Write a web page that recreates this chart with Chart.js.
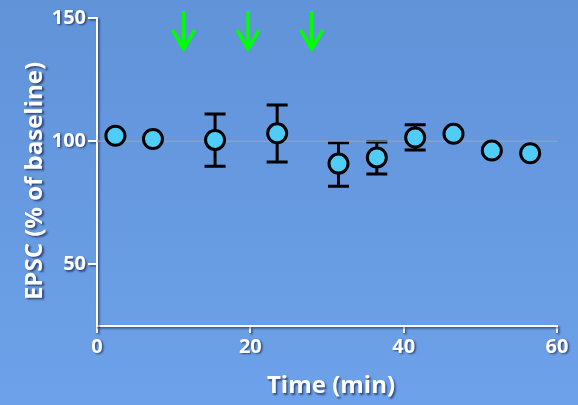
<!DOCTYPE html>
<html>
<head>
<meta charset="utf-8">
<script src="https://cdn.jsdelivr.net/npm/chart.js@4/dist/chart.umd.min.js"></script>
<style>
  html, body { margin: 0; padding: 0; background: #6699dd; }
  #wrap { width: 578px; height: 405px; }
</style>
</head>
<body>
<div id="wrap"><canvas id="canvas-1"></canvas></div>
<script>
// data
var times = [2.4, 7.3, 15.4, 23.5, 31.5, 36.5, 41.5, 46.5, 51.5, 56.5];
var epsc = [102.2, 100.9, 100.5, 103.2, 90.9, 93.4, 101.5, 103, 96.2, 95.1];
var errHigh = [null, null, 111, 114.7, 99.4, 99.7, 106.7, null, null, null];
var errLow = [null, null, 89.8, 91.6, 81.7, 86.7, 96.4, null, null, null];
var arrowTimes = [11.3, 19.7, 28];
var baseline = [100, 100];
var baselineTimes = [0, 60];
var xTicks = [0, 20, 40, 60];
var yTicks = [50, 100, 150];
var xTitle = 'Time (min)';
var yTitle = 'EPSC (% of baseline)';

var fontFamily = '"Open Sans", Lato, sans-serif';

var pointsData = times.map(function (t, i) {
  return { x: t, y: epsc[i] };
});
var baselineData = baselineTimes.map(function (t, i) {
  return { x: t, y: baseline[i] };
});

var look = {
  id: 'look',
  beforeDraw: function (chart) {
    var ctx = chart.ctx;
    var g = ctx.createLinearGradient(0, 0, 0, chart.height);
    g.addColorStop(0, '#6093d8');
    g.addColorStop(1, '#6da1e9');
    ctx.save();
    ctx.fillStyle = g;
    ctx.fillRect(0, 0, chart.width, chart.height);
    ctx.restore();
    // shadow for axes and text
    ctx.save();
    ctx.shadowColor = 'rgba(0, 0, 40, 0.55)';
    ctx.shadowOffsetX = 1.5;
    ctx.shadowOffsetY = 1.5;
    ctx.shadowBlur = 2;
    // axis titles
    ctx.fillStyle = '#fff';
    ctx.font = 'bold 24px ' + fontFamily;
    ctx.textAlign = 'center';
    ctx.textBaseline = 'alphabetic';
    ctx.fillText(xTitle, 331, 393);
    ctx.save();
    ctx.translate(42, 181);
    ctx.rotate(-Math.PI / 2);
    ctx.fillText(yTitle, 0, 0);
    ctx.restore();
  },
  beforeDatasetsDraw: function (chart) {
    var ctx = chart.ctx;
    ctx.restore();
    // error bars
    var x = chart.scales.x, y = chart.scales.y;
    ctx.save();
    ctx.strokeStyle = '#000';
    ctx.lineWidth = 3;
    for (var i = 0; i < times.length; i++) {
      if (errHigh[i] == null) continue;
      var px = x.getPixelForValue(times[i]);
      var top = y.getPixelForValue(errHigh[i]);
      var bot = y.getPixelForValue(errLow[i]);
      ctx.beginPath();
      ctx.moveTo(px, top); ctx.lineTo(px, bot);
      ctx.moveTo(px - 10.5, top); ctx.lineTo(px + 10.5, top);
      ctx.moveTo(px - 10.5, bot); ctx.lineTo(px + 10.5, bot);
      ctx.stroke();
    }
    ctx.restore();
  },
  afterDraw: function (chart) {
    var ctx = chart.ctx;
    var x = chart.scales.x;
    var top = chart.chartArea.top;
    ctx.save();
    ctx.strokeStyle = '#00ff00';
    ctx.lineWidth = 3.5;
    arrowTimes.forEach(function (t) {
      var px = x.getPixelForValue(t);
      ctx.beginPath();
      ctx.moveTo(px, top - 7);
      ctx.lineTo(px, top + 30);
      ctx.moveTo(px - 11, top + 12);
      ctx.lineTo(px, top + 31);
      ctx.lineTo(px + 11, top + 12);
      ctx.stroke();
    });
    ctx.restore();
  }
};

var chart = new Chart(document.getElementById('canvas-1'), {
  type: 'scatter',
  data: {
    datasets: [{
      data: pointsData,
      backgroundColor: '#4fcdf8',
      borderColor: '#000',
      borderWidth: 3,
      pointRadius: 9.5,
      pointHoverRadius: 9.5,
      order: 1
    }, {
      type: 'line',
      data: baselineData,
      borderColor: '#a6a6a6',
      borderWidth: 1,
      pointRadius: 0,
      order: 2
    }]
  },
  options: {
    responsive: true,
    maintainAspectRatio: false,
    animation: false,
    layout: { padding: { top: 18, right: 21, left: 0, bottom: 0 } },
    plugins: { legend: { display: false }, tooltip: { enabled: false } },
    scales: {
      x: {
        type: 'linear',
        min: 0,
        max: 60,
        afterBuildTicks: function (s) { s.ticks = xTicks.map(function (v) { return { value: v }; }); },
        afterFit: function (s) { s.height = 79; },
        grid: { drawOnChartArea: false, color: '#fff', lineWidth: 2, tickLength: 7 },
        border: { color: '#fff', width: 2 },
        ticks: { color: '#fff', padding: 2, font: { family: fontFamily, size: 20, weight: 'bold' } }
      },
      y: {
        min: 25,
        max: 150,
        afterBuildTicks: function (s) { s.ticks = yTicks.map(function (v) { return { value: v }; }); },
        afterFit: function (s) { s.width = 97; },
        grid: { drawOnChartArea: false, color: '#fff', lineWidth: 2, tickLength: 9 },
        border: { color: '#fff', width: 2 },
        ticks: { color: '#fff', padding: 2, font: { family: fontFamily, size: 20, weight: 'bold' } }
      }
    }
  },
  plugins: [look]
});
</script>
</body>
</html>
